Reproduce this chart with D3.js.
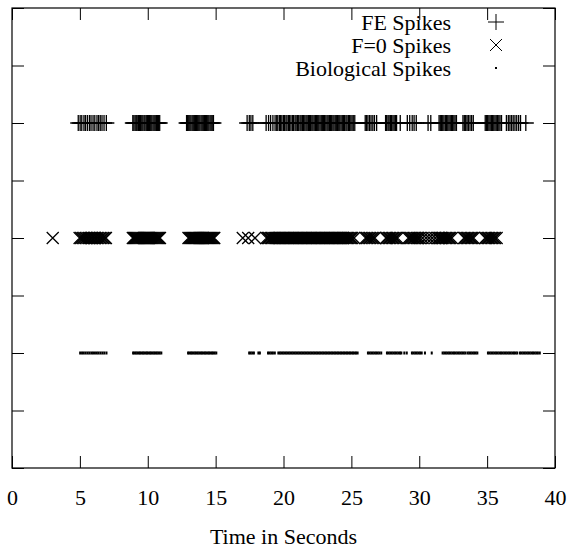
<!DOCTYPE html>
<html>
<head>
<meta charset="utf-8">
<script src="https://cdn.jsdelivr.net/npm/d3@7"></script>
<style>
  body { margin: 0; background: #fff; }
  text { font-family: "Liberation Serif", "Times New Roman", serif; }
</style>
</head>
<body>
<div id="chart"></div>
<script>
// spike times (seconds)

var feSpikes = [
  4.88, 5.02, 5.14, 5.3, 5.41, 5.55, 5.7, 5.82, 5.97, 6.1, 6.26, 6.38, 6.5, 6.63, 6.78, 6.95,
  8.9, 8.98, 9.07, 9.15, 9.22, 9.31, 9.4, 9.47, 9.56, 9.64, 9.73, 9.8, 9.89, 9.97, 10.05,
  10.14, 10.22, 10.3, 10.39, 10.47, 10.55, 10.64, 10.72, 10.8, 10.88,
  12.86, 12.94, 13.02, 13.1, 13.18, 13.27, 13.35, 13.43, 13.51, 13.6, 13.68, 13.76, 13.84,
  13.93, 14.01, 14.09, 14.17, 14.26, 14.34, 14.42, 14.5, 14.59, 14.67, 14.75, 14.84,
  17.32, 17.48, 17.6, 17.74,
  18.72, 18.9, 19.05, 19.22, 19.38,
  19.5, 19.58, 19.7, 19.79, 19.88, 19.99, 20.07, 20.18, 20.26, 20.37, 20.45, 20.55, 20.66,
  20.74, 20.85, 20.93, 21.03, 21.12, 21.22, 21.3, 21.4, 21.48, 21.57, 21.66, 21.74, 21.83,
  21.91, 22.0, 22.09, 22.17, 22.26, 22.35, 22.43, 22.52, 22.6, 22.69, 22.78, 22.86, 22.95,
  23.03, 23.12, 23.21, 23.29, 23.38, 23.46, 23.55, 23.64, 23.72, 23.81, 23.89, 23.98, 24.07,
  24.15, 24.24, 24.33, 24.41, 24.5, 24.6, 24.68, 24.78, 24.86, 24.96, 25.05, 25.14, 25.25,
  26.02, 26.12, 26.22, 26.34, 26.45, 26.58, 26.7, 26.86,
  27.52, 27.6, 27.7, 27.78, 27.88, 27.96, 28.06, 28.15, 28.24, 28.33,
  28.6,
  29.12, 29.3, 29.48, 29.62, 29.78,
  30.65, 30.85,
  31.46, 31.55, 31.64, 31.73, 31.82, 31.92, 32.0, 32.1, 32.19, 32.28, 32.37, 32.46, 32.55, 32.64, 32.74,
  33.22, 33.32, 33.42, 33.52, 33.62, 33.74, 33.86, 33.98,
  34.86, 34.95, 35.04, 35.13, 35.22, 35.31, 35.4, 35.49, 35.58, 35.67, 35.76, 35.86, 35.95, 36.06,
  36.42, 36.56, 36.68, 36.8, 36.92, 37.05, 37.18, 37.32, 37.46,
  37.85
];

var f0Spikes = [
  3.0,
  4.98, 5.1, 5.21, 5.33, 5.44, 5.56, 5.67, 5.79, 5.9, 6.02, 6.13, 6.25, 6.36, 6.48, 6.59, 6.71, 6.82, 6.92,
  8.9, 8.98, 9.06, 9.14, 9.22, 9.3, 9.38, 9.46, 9.54, 9.62, 9.7, 9.78, 9.86, 9.94, 10.02,
  10.1, 10.18, 10.26, 10.34, 10.42, 10.5, 10.58, 10.66, 10.74, 10.82, 10.9,
  13.0, 13.08, 13.16, 13.24, 13.32, 13.4, 13.48, 13.56, 13.64, 13.72, 13.8, 13.88, 13.96,
  14.04, 14.12, 14.2, 14.28, 14.36, 14.44, 14.52, 14.6, 14.68, 14.76, 14.84, 14.9,
  17.0, 17.4, 17.9,
  18.75, 18.86, 18.95, 19.06, 19.15, 19.26, 19.35, 19.45, 19.55, 19.64, 19.74, 19.83, 19.93,
  20.02, 20.12, 20.21, 20.31, 20.4, 20.5, 20.59, 20.69, 20.78, 20.88, 20.97, 21.07, 21.16,
  21.26, 21.35, 21.45, 21.54, 21.64, 21.73, 21.83, 21.92, 22.02, 22.11, 22.21, 22.3, 22.4,
  22.49, 22.59, 22.68, 22.78, 22.87, 22.97, 23.06, 23.16, 23.25, 23.35, 23.44, 23.54, 23.63,
  23.73, 23.82, 23.92, 24.01, 24.11, 24.2, 24.3, 24.39, 24.49, 24.58, 24.68, 24.77, 24.87,
  24.96, 25.06, 25.2,
  26.05, 26.16, 26.27, 26.38, 26.5, 26.62, 26.72,
  27.55, 27.65, 27.76, 27.86, 27.97, 28.07, 28.18, 28.28, 28.4,
  29.2, 29.3, 29.41, 29.51, 29.62, 29.72, 29.83, 29.93, 30.05,
  30.25, 30.5, 30.72, 30.95, 31.18,
  31.38, 31.48, 31.58, 31.68, 31.78, 31.88, 31.98, 32.08, 32.18, 32.28, 32.4,
  33.3, 33.4, 33.5, 33.6, 33.7, 33.8, 33.9, 34.0,
  34.85, 34.95, 35.05, 35.15, 35.26, 35.36, 35.47, 35.57, 35.7
];

var bioSpikes = [
  5.02, 5.16, 5.29, 5.43, 5.57, 5.7, 5.84, 5.97, 6.11, 6.25, 6.38, 6.52, 6.66, 6.8, 6.96,
  8.92, 9.02, 9.12, 9.23, 9.33, 9.43, 9.54, 9.64, 9.74, 9.85, 9.95, 10.05, 10.16, 10.26,
  10.36, 10.47, 10.57, 10.67, 10.78, 10.88, 11.0,
  12.97, 13.07, 13.18, 13.28, 13.38, 13.49, 13.59, 13.69, 13.8, 13.9, 14.0, 14.11, 14.21,
  14.31, 14.42, 14.52, 14.62, 14.73, 14.83, 14.93, 15.05,
  17.47, 17.58, 17.7, 17.82, 18.15, 18.26,
  18.86, 18.98, 19.1, 19.22, 19.36,
  19.62, 19.73, 19.84, 19.95, 20.06, 20.17, 20.28, 20.39, 20.5, 20.61, 20.72, 20.83, 20.94,
  21.05, 21.16, 21.27, 21.38, 21.49, 21.6, 21.71, 21.82, 21.93, 22.04, 22.15, 22.26, 22.37,
  22.48, 22.59, 22.7, 22.81, 22.92, 23.03, 23.14, 23.25, 23.36, 23.47, 23.58, 23.69, 23.8,
  23.91, 24.02, 24.13, 24.24, 24.35, 24.46, 24.57, 24.68, 24.79, 24.9, 25.01, 25.12, 25.23,
  25.34, 25.46,
  26.22, 26.34, 26.46, 26.58, 26.7, 26.82, 26.94, 27.06, 27.2,
  27.62, 27.74, 27.86, 27.98, 28.1, 28.22, 28.34, 28.46, 28.58, 28.68, 28.9,
  29.08,
  29.46, 29.58, 29.7, 29.82, 29.94, 30.06, 30.18,
  30.42,
  30.92,
  31.72, 31.84, 31.96, 32.08, 32.2, 32.32, 32.44, 32.56, 32.68, 32.8, 32.92, 33.04, 33.16, 33.28, 33.4,
  33.56, 33.68, 33.8, 33.92, 34.04, 34.16, 34.28,
  35.06, 35.18, 35.3, 35.42, 35.54, 35.66, 35.78, 35.9, 36.02, 36.14, 36.26, 36.38, 36.5,
  36.62, 36.74, 36.86, 36.98, 37.1, 37.22,
  37.42, 37.54, 37.66, 37.78, 37.9, 38.02, 38.14, 38.26, 38.38, 38.5, 38.62, 38.74, 38.88
];

var seriesNames = ["FE Spikes", "F=0 Spikes", "Biological Spikes"];
var rowLevels = [6, 4, 2];
var xTicks = [0, 5, 10, 15, 20, 25, 30, 35, 40];
var yTicks = [0, 1, 2, 3, 4, 5, 6, 7, 8];

var width = 569, height = 552;
var margin = {top: 8, right: 14, bottom: 84, left: 12};

var svg = d3.select("#chart").append("svg")
    .attr("width", width)
    .attr("height", height);

var x = d3.scaleLinear().domain([0, 40]).range([margin.left, width - margin.right]);
var y = d3.scaleLinear().domain([0, 8]).range([height - margin.bottom, margin.top]);

// markers as paths, gnuplot style
var markers = [
  "M-8,0H8M0,-8V8",
  "M-6,-6L6,6M-6,6L6,-6",
  null
];

// axes (ticks pointing inward on all four sides)
svg.append("g")
    .attr("class", "axis")
    .attr("transform", "translate(0," + y(0) + ")")
    .call(d3.axisBottom(x).tickValues(xTicks).tickSizeInner(-12).tickSizeOuter(0).tickPadding(21))
    .call(function(g) {
      g.selectAll("text").style("font-size", "22px").attr("fill", "#000");
    });

svg.append("g")
    .attr("transform", "translate(0," + y(8) + ")")
    .call(d3.axisTop(x).tickValues(xTicks).tickSizeInner(-12).tickSizeOuter(0).tickFormat(""));

svg.append("g")
    .attr("transform", "translate(" + x(0) + ",0)")
    .call(d3.axisLeft(y).tickValues(yTicks).tickSizeInner(-12).tickSizeOuter(0).tickFormat(""));

svg.append("g")
    .attr("transform", "translate(" + x(40) + ",0)")
    .call(d3.axisRight(y).tickValues(yTicks).tickSizeInner(-12).tickSizeOuter(0).tickFormat(""));

svg.selectAll(".domain").remove();
svg.selectAll(".tick line").attr("stroke", "#000").attr("stroke-width", 1);

svg.append("rect")
    .attr("x", x(0))
    .attr("y", y(8))
    .attr("width", x(40) - x(0))
    .attr("height", y(0) - y(8))
    .attr("fill", "none")
    .attr("stroke", "#000")
    .attr("stroke-width", 1.2);

svg.append("text")
    .attr("x", (x(0) + x(40)) / 2)
    .attr("y", 544)
    .attr("text-anchor", "middle")
    .style("font-size", "22px")
    .text("Time in Seconds");

// spike rows
var rows = [feSpikes, f0Spikes, bioSpikes];

rows.forEach(function(times, i) {
  var g = svg.append("g");
  if (markers[i]) {
    g.selectAll("path")
        .data(times)
      .enter().append("path")
        .attr("transform", function(d) { return "translate(" + x(d) + "," + y(rowLevels[i]) + ")"; })
        .attr("d", markers[i])
        .attr("fill", "none")
        .attr("stroke", "#000")
        .attr("stroke-width", 1.3);
  } else {
    g.selectAll("rect")
        .data(times)
      .enter().append("rect")
        .attr("x", function(d) { return x(d) - 1; })
        .attr("y", y(rowLevels[i]) - 1.5)
        .attr("width", 2)
        .attr("height", 3)
        .attr("fill", "#000");
  }
});

// legend, top right
var legend = svg.append("g");
seriesNames.forEach(function(name, i) {
  var ly = 22 + i * 23;
  legend.append("text")
      .attr("x", 451)
      .attr("y", ly)
      .attr("dy", "0.35em")
      .attr("text-anchor", "end")
      .style("font-size", "22px")
      .text(name);
  if (markers[i]) {
    legend.append("path")
        .attr("transform", "translate(496," + ly + ")")
        .attr("d", markers[i])
        .attr("fill", "none")
        .attr("stroke", "#000");
  } else {
    legend.append("rect")
        .attr("x", 495)
        .attr("y", ly - 1)
        .attr("width", 2)
        .attr("height", 2)
        .attr("fill", "#000");
  }
});
</script>
</body>
</html>
